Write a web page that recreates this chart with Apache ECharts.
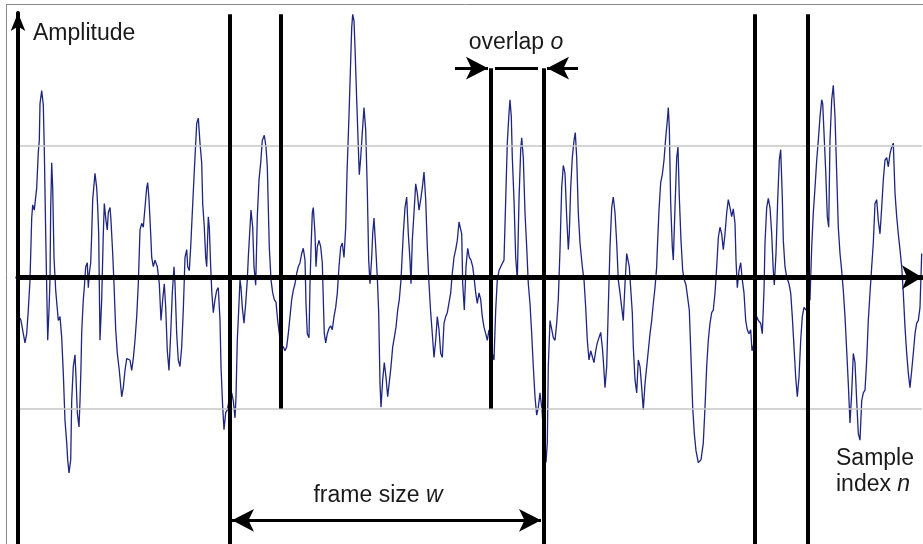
<!DOCTYPE html>
<html>
<head>
<meta charset="utf-8">
<title>Framing of a sampled signal</title>
<script src="https://cdn.jsdelivr.net/npm/echarts@6/dist/echarts.min.js"></script>
<style>
  html, body { margin: 0; padding: 0; background: #ffffff; }
  #chart { width: 923px; height: 544px; }
</style>
</head>
<body>
<div id="chart"></div>
<script>
// Sampled signal: [sample index n, amplitude]
const waveform = [
  [2,-0.31],[3,-0.33],[5.3,-0.43],[7,-0.50],[8.7,-0.43],[10.3,-0.25],[12,-0.02],[12.7,0.17],[13.7,0.45],[14.7,0.55],
  [16.3,0.51],[18,0.51],[18.7,0.68],[20.3,0.95],[21.3,1.04],[22,1.32],[23.7,1.42],[25.3,1.31],[26.3,0.97],[27.7,0.33],
  [28.7,-0.08],[29.7,-0.48],[31,-0.25],[32,-0.02],[32.7,0.53],[33.7,0.87],[34.7,0.68],[36,0.15],[37.7,-0.10],[40.3,-0.33],
  [42,-0.30],[43.7,-0.46],[45.3,-0.73],[47,-1.09],[48.7,-1.26],[49.7,-1.39],[51,-1.49],[52.7,-1.39],[53.7,-0.94],[55.3,-0.68],
  [57,-0.59],[58,-0.76],[59.3,-1.03],[61,-1.14],[62,-0.94],[63,-0.68],[63.7,-0.42],[65.3,-0.17],[66.3,-0.08],[67.7,0.08],
  [69.3,0.11],[70.3,-0.08],[71.3,0.03],[72.7,0.11],[73.7,0.33],[74.7,0.59],[77,0.79],[78.7,0.68],[79.7,0.53],[80.7,0.33],
  [81.3,-0.05],[82,-0.48],[83.7,-0.17],[85.3,0.33],[86.3,0.56],[88,0.43],[89.3,0.36],[90.3,0.49],[92,0.53],[93,0.43],
  [94.7,0.18],[96,-0.05],[97.7,-0.40],[99.3,-0.58],[101.3,-0.71],[103.7,-0.91],[105.3,-0.84],[107,-0.71],[108.7,-0.62],[110.3,-0.61],
  [112,-0.63],[113.7,-0.71],[115.3,-0.62],[117,-0.48],[118.7,-0.30],[120.3,-0.05],[122,0.36],[123.7,0.41],[125.3,0.38],[127,0.53],
  [128.7,0.68],[129.7,0.72],[131,0.59],[132.7,0.33],[133.7,0.15],[135.3,0.08],[137,0.13],[139.3,0.08],[141.3,-0.05],[143,-0.33],
  [144.7,-0.17],[146.3,-0.05],[147.7,-0.23],[149.3,-0.56],[151,-0.71],[152.7,-0.43],[154.3,-0.12],[156,0.08],[157,-0.05],[158.7,-0.43],
  [160.3,-0.63],[162,-0.68],[163.7,-0.53],[165.3,-0.25],[167,0.15],[168.7,0.21],[169.7,0.08],[171.3,0.05],[172.7,0.23],[174.3,0.49],
  [176,0.76],[177.7,1.02],[178.7,1.17],[180.3,1.21],[182,1.02],[183.7,0.87],[184.7,0.56],[186.3,0.38],[187.7,0.15],[188.7,0.08],
  [190.3,0.46],[191.3,0.38],[192.7,0.08],[193.7,-0.10],[195.3,-0.27],[197,-0.17],[198.7,-0.10],[200.3,-0.08],[202,-0.33],[203,-0.68],
  [204.7,-0.99],[206,-1.16],[207.7,-1.03],[209.3,-1.01],[211,-0.94],[213.7,-0.88],[215.3,-0.94],[217,-1.07],[218,-0.91],[219.3,-0.48],
  [220.7,-0.25],[222,-0.02],[223,-0.08],[224.3,-0.23],[226,-0.35],[227.7,-0.20],[229.3,-0.02],[230.3,0.15],[232,0.38],[233,0.51],
  [234.7,0.38],[236,0.08],[237.7,-0.06],[239.3,0.46],[241,0.74],[242.7,0.87],[244.3,1.04],[246.3,1.08],[248,0.99],[249.3,0.84],
  [250.3,0.53],[251.3,0.23],[253,-0.02],[254.7,-0.12],[256.3,-0.17],[258,-0.19],[259.7,-0.33],[261.5,-0.44],[263,-0.52],[265.3,-0.53],
  [267,-0.56],[268.7,-0.53],[270.3,-0.43],[272,-0.30],[273.7,-0.17],[275.3,-0.10],[277,-0.05],[278.7,0.03],[280.3,0.08],[282,0.11],
  [283.7,0.18],[285.3,0.22],[287,0.13],[288,-0.20],[289.3,-0.43],[291,-0.46],[292,-0.05],[293,0.21],[294.3,0.49],[295.3,0.53],
  [297,0.33],[298,0.08],[299.3,0.23],[301,0.28],[302.7,0.23],[304.3,0.11],[305.3,-0.17],[306.3,-0.43],[307.7,-0.50],[309.3,-0.43],
  [311,-0.39],[312.7,-0.37],[314.3,-0.40],[316,-0.30],[317.7,-0.23],[319.3,-0.12],[321,0.08],[322.7,0.23],[324.3,0.26],[326,0.15],
  [327.7,0.38],[329,0.79],[331,1.23],[332.7,1.65],[333.7,1.90],[334.7,2.00],[336,1.95],[337,1.75],[338.7,1.35],[340.3,0.99],
  [341.3,0.78],[342.7,0.91],[344.3,1.10],[346,1.29],[347.7,1.12],[349.3,0.66],[350.7,0.13],[352,-0.05],[353.7,0.15],[354.7,0.33],
  [356,0.45],[357.7,0.23],[359.3,0],[360.7,-0.27],[362,-0.81],[363,-0.99],[364.7,-0.78],[366.3,-0.65],[368,-0.76],[369.7,-0.91],
  [371.3,-0.91],[373,-0.68],[374.7,-0.53],[376.3,-0.46],[378,-0.38],[379.7,-0.25],[381.3,-0.17],[383,-0.02],[384.3,0.18],[385.3,0.33],
  [387,0.53],[388.7,0.61],[390.3,0.33],[392,0.13],[393,-0.05],[394.3,0.28],[396,0.49],[397.7,0.71],[399.3,0.64],[401,0.51],
  [402.7,0.59],[404.3,0.68],[406,0.80],[407.7,0.59],[409.3,0.23],[411,-0.05],[412.7,-0.27],[414.3,-0.43],[416,-0.61],[417.7,-0.48],
  [419.3,-0.30],[421,-0.40],[422.7,-0.58],[424.3,-0.61],[426,-0.35],[427.7,-0.30],[429.3,-0.27],[431,-0.27],[432.7,-0.12],[434.3,0.03],
  [436,0.15],[437.7,0.21],[439.3,0.28],[441,0.42],[442,0.42],[443.7,0.33],[444.7,-0.05],[446.3,-0.25],[448,0.08],[449.7,0.22],
  [451.3,0.15],[453,0.13],[454.7,0.08],[456,0],[457.7,-0.12],[459.3,-0.20],[461,-0.12],[462.7,-0.17],[464.3,-0.30],[466,-0.38],
  [467.7,-0.43],[469.3,-0.48],[471,-0.40],[474.3,-0.58],[476,-0.63],[477.7,-0.25],[479.3,-0.02],[481,0.05],[482.7,0.08],[484.3,0.07],
  [486,0.13],[487.7,0.59],[489.3,1.02],[491,1.25],[492,1.35],[493.3,1.22],[494.3,0.91],[496,0.59],[497.7,0.15],[499.3,-0.02],
  [501,0.59],[502.7,0.97],[503.7,1.06],[505.3,0.91],[507,0.49],[508.7,0.23],[510.3,-0.05],[512,-0.20],[513.7,-0.43],[515.3,-0.68],
  [517,-0.91],[518.7,-1.05],[520.3,-0.99],[522,-0.88],[524,-1.01],[526,-1.24],[528,-1.41],[529.3,-1.26],[530.3,-0.68],[532,-0.33],
  [533.7,-0.33],[535.3,-0.46],[537,-0.48],[538.7,-0.35],[540.3,-0.17],[542,0.21],[543.7,0.68],[545.3,0.85],[547,0.79],[548.7,0.46],
  [550.3,0.21],[551.3,0.33],[552.7,0.68],[554.3,0.91],[556,1.04],[557.3,1.10],[558.7,0.91],[560.3,0.49],[562,0.26],[564.3,0.08],
  [566,-0.02],[567.7,-0.23],[569.3,-0.48],[571,-0.63],[572.7,-0.56],[574.3,-0.56],[576,-0.65],[577.7,-0.56],[579.3,-0.50],[581,-0.46],
  [582.7,-0.42],[584.3,-0.53],[585.3,-0.63],[587,-0.84],[588.7,-0.68],[590.3,-0.23],[592,0.23],[593.7,0.53],[595.3,0.61],[597,0.49],
  [598.7,0.26],[600.3,-0.02],[602,-0.12],[603.7,-0.23],[605.3,-0.33],[607,-0.05],[608.7,0.18],[609.7,0.19],[611.3,0.08],[613,-0.12],
  [614.3,-0.27],[615.3,-0.53],[617,-0.78],[618.7,-0.88],[620.3,-0.63],[622,-0.68],[623.7,-0.84],[625.3,-1.01],[627,-0.81],[628.7,-0.68],
  [630.3,-0.56],[632,-0.43],[633.7,-0.33],[635.3,-0.20],[637,-0.08],[638.7,0.08],[639.3,0.21],[641,0.51],[642.7,0.72],[644.3,0.78],
  [646,0.89],[647.7,1.06],[649.3,1.19],[650.3,1.29],[651.3,1.14],[652.7,0.56],[654.3,0.23],[655.3,0.13],[657,0.53],[658.7,0.91],
  [660,0.99],[661.3,0.61],[663,0.28],[664.7,0.05],[666.3,-0.02],[668,-0.06],[669.7,-0.05],[671.3,-0.25],[673,-0.61],[674.7,-0.99],
  [676.3,-1.19],[678,-1.32],[680.3,-1.41],[683,-1.39],[685.3,-1.26],[687,-0.99],[688.7,-0.68],[690.3,-0.48],[692,-0.35],[693.7,-0.27],
  [695.3,-0.25],[697,-0.12],[698.7,0.08],[700.3,0.30],[702,0.38],[703.7,0.33],[705.3,0.21],[707,0.33],[708.7,0.49],[710.3,0.59],
  [712,0.53],[713.7,0.46],[715.3,0.52],[717,0.41],[718,0.13],[719.3,-0.08],[721,0.05],[722.7,0.11],[724.3,-0.02],[726,-0.12],
  [727.7,-0.33],[729.3,-0.40],[731,-0.43],[732.7,-0.40],[734,-0.56],[735.5,-0.52],[738.7,-0.30],[740.3,-0.33],[742.7,-0.35],[744.3,-0.43],
  [746,-0.10],[747,0.26],[748.7,0.53],[750.3,0.60],[752,0.53],[753.7,0.33],[755.3,0.05],[756.3,-0.06],[758,0.18],[759.7,0.59],
  [761.3,0.89],[762.7,0.97],[764.3,0.61],[765.3,0.28],[767,0.08],[768.7,0],[771,-0.05],[772.7,-0.12],[774.3,-0.30],[776,-0.53],
  [777.7,-0.76],[779.3,-0.91],[781,-0.76],[782.7,-0.48],[784.3,-0.30],[786,-0.23],[788,-0.25],[792,-0.17],[793.7,0.23],[795.3,0.49],
  [797,0.68],[798.7,0.89],[800.3,1.04],[802,1.22],[803.7,1.35],[804.7,1.32],[806,1.10],[807.7,0.81],[809.3,0.46],[810.7,0.38],
  [812,1.04],[813.7,1.35],[815.3,1.46],[817,1.22],[818.7,0.79],[820.3,0.38],[822,0.18],[823.7,0.05],[825.3,-0.10],[827,-0.30],
  [828.7,-0.56],[830.3,-0.81],[832,-1.11],[833.7,-0.88],[835.3,-0.58],[837,-0.65],[838.7,-0.94],[840.3,-1.19],[842,-1.24],[843.7,-0.94],
  [845.3,-0.88],[847,-0.86],[848.7,-0.63],[850.3,-0.33],[852,-0.12],[853.7,0.08],[855.3,0.26],[857,0.56],[858.7,0.59],[860.3,0.43],
  [862,0.33],[863.7,0.53],[865.3,0.74],[867,0.89],[868.7,0.91],[870.3,0.84],[872,0.94],[873.7,0.99],[875.3,1.02],[877,0.64],
  [878.7,0.46],[880.3,0.33],[882,0.21],[883.7,0.08],[885.3,-0.12],[887,-0.38],[888.7,-0.58],[890.3,-0.73],[892,-0.84],[893.7,-0.71],
  [895.3,-0.58],[897,-0.43],[898.7,-0.35],[900.3,-0.33],[902,-0.23],[903.7,0.18]
];

// Axis ranges (sample index / amplitude)
const nRange = [0, 904];
const ampRange = [-2.03, 2.01];

// Thin reference levels
const guideLevels = [1, -1];

// Frame boundary markers: [sample index, upper amplitude, lower amplitude]
const frameMarks = [
  [211.5, 2.0, -2.03],
  [263, 2.0, -1],
  [472.5, 1.59, -1],
  [526, 1.59, -2.03],
  [737, 2.0, -2.03],
  [790, 2.0, -2.03]
];

// Dimension arrows: frame size w (start, end, level), overlap o
const frameSpan = [214, 523, -1.85];
const overlapLevel = 1.59;
const overlapLeftArrow = [437, 470];
const overlapBar = [477, 520];
const overlapRightArrow = [560, 529];

// Text
const yTitle = 'Amplitude';
const xTitle = ['Sample', 'index {i|n}'];
const frameLabel = 'frame size {i|w}';
const overlapLabel = 'overlap {i|o}';

const FONT = '"Liberation Sans", Arial, Helvetica, sans-serif';
const INK = '#1a1a1a';

function textEl(text, x, y, align) {
  return {
    type: 'text', x: x, y: y, z: 100,
    style: {
      text: text, fill: INK, fontSize: 23, fontFamily: FONT,
      align: align, verticalAlign: 'middle',
      rich: { i: { fontSize: 23, fontFamily: FONT, fontStyle: 'italic', fill: INK } }
    }
  };
}

function seg(x1, y1, x2, y2, extra) {
  return [Object.assign({ coord: [x1, y1] }, extra && extra[0]), Object.assign({ coord: [x2, y2] }, extra && extra[1])];
}

const arrowEnd = { symbol: 'arrow', symbolSize: [17, 22] };
const noEnd = { symbol: 'none' };

const blackLines = [];
frameMarks.forEach(function (m) { blackLines.push(seg(m[0], m[1], m[0], m[2])); });

const dimLines = [
  seg(frameSpan[0], frameSpan[2], frameSpan[1], frameSpan[2], [arrowEnd, arrowEnd]),
  seg(overlapLeftArrow[0], overlapLevel, overlapLeftArrow[1], overlapLevel, [noEnd, arrowEnd]),
  seg(overlapRightArrow[0], overlapLevel, overlapRightArrow[1], overlapLevel, [noEnd, arrowEnd]),
  seg(overlapBar[0], overlapLevel, overlapBar[1], overlapLevel)
];

const chart = echarts.init(document.getElementById('chart'), null, { renderer: 'canvas' });

chart.setOption({
  animation: false,
  backgroundColor: '#ffffff',
  grid: { left: 18, right: 1, top: 13, bottom: 0, containLabel: false },
  xAxis: {
    type: 'value', min: nRange[0], max: nRange[1], z: 6,
    axisLine: {
      show: true, onZero: true,
      symbol: ['none', 'arrow'], symbolSize: [18, 20],
      lineStyle: { color: '#000', width: 5 }
    },
    axisTick: { show: false }, axisLabel: { show: false }, splitLine: { show: false }
  },
  yAxis: {
    type: 'value', min: ampRange[0], max: ampRange[1], z: 6,
    axisLine: {
      show: true,
      symbol: ['none', 'arrow'], symbolSize: [11, 18],
      lineStyle: { color: '#000', width: 4 }
    },
    axisTick: { show: false }, axisLabel: { show: false }, splitLine: { show: false }
  },
  series: [
    {
      name: 'guides', type: 'line', data: [], z: 1, silent: true, clip: false,
      markLine: {
        silent: true, symbol: ['none', 'none'], label: { show: false },
        lineStyle: { color: '#c6c6c6', width: 1.5, type: 'solid' },
        data: guideLevels.map(function (v) { return seg(nRange[0], v, nRange[1], v); })
      }
    },
    {
      name: 'signal', type: 'line', data: waveform, z: 2, clip: false,
      showSymbol: false, symbol: 'none',
      lineStyle: { color: '#1f2680', width: 1.3 }
    },
    {
      name: 'frames', type: 'line', data: [], z: 5, silent: true, clip: false,
      markLine: {
        silent: true, symbol: ['none', 'none'], label: { show: false },
        lineStyle: { color: '#000', width: 4, type: 'solid' },
        data: blackLines
      }
    },
    {
      name: 'dimensions', type: 'line', data: [], z: 5, silent: true, clip: false,
      markLine: {
        silent: true, symbol: ['none', 'none'], label: { show: false },
        lineStyle: { color: '#000', width: 3, type: 'solid' },
        data: dimLines
      }
    }
  ],
  graphic: [
    { type: 'line', z: 100, shape: { x1: 6, y1: 4.5, x2: 923, y2: 4.5 }, style: { stroke: '#8a8a8a', lineWidth: 1 } },
    { type: 'line', z: 100, shape: { x1: 6.5, y1: 4.5, x2: 6.5, y2: 544 }, style: { stroke: '#8a8a8a', lineWidth: 1 } },
    textEl(yTitle, 33, 34, 'left'),
    textEl(overlapLabel, 516, 43, 'center'),
    textEl(frameLabel, 378, 496, 'center'),
    textEl(xTitle[0], 836, 459, 'left'),
    textEl(xTitle[1], 836, 485, 'left')
  ]
});
</script>
</body>
</html>
